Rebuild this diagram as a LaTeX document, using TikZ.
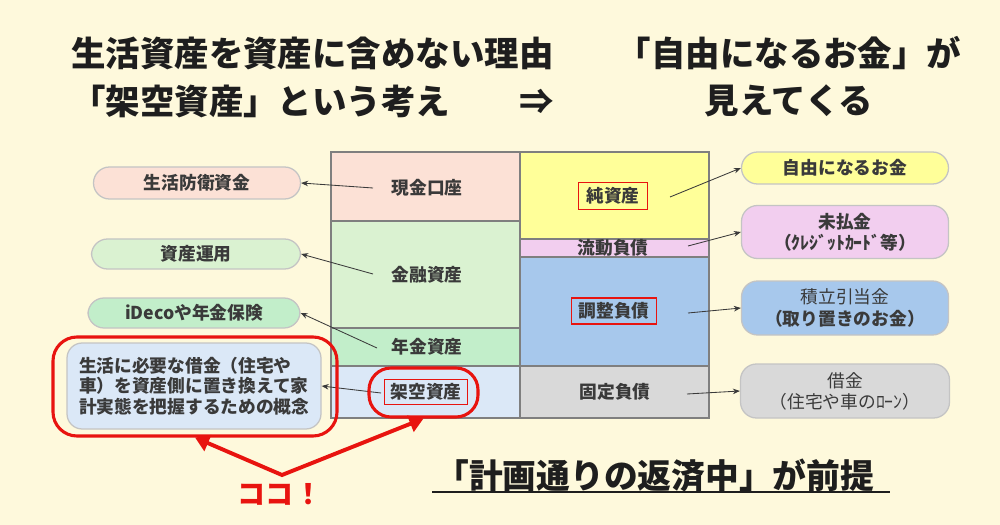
\documentclass[tikz,border=0pt]{standalone}
\usepackage{fontspec}
\usetikzlibrary{arrows.meta, positioning}
\setmainfont{Noto Sans CJK JP}
\definecolor{bgcream}{HTML}{FEF9DC}
\definecolor{pinkc}{HTML}{FCE1D6}
\definecolor{greenl}{HTML}{DAF2D1}
\definecolor{greenm}{HTML}{C2EECA}
\definecolor{bluel}{HTML}{DBE8F7}
\definecolor{yellowc}{HTML}{FFFF99}
\definecolor{lavc}{HTML}{F2CEEF}
\definecolor{bluem}{HTML}{A7C8EC}
\definecolor{grayc}{HTML}{D9D9D9}
\definecolor{cellgray}{HTML}{7F7F7F}
\definecolor{pillgray}{HTML}{C4C4C4}
\definecolor{txtgray}{HTML}{3A3A3A}
\definecolor{ttlc}{HTML}{1E1E1E}
\definecolor{redc}{HTML}{E8140F}
\newcommand{\lblfont}{\fontsize{12.6}{15}\selectfont}
\newcommand{\ttlfont}{\fontsize{24.5}{30}\selectfont\bfseries}
\tikzset{
  cell/.style={draw=cellgray, line width=1.1pt},
  lbl/.style={text=txtgray, font=\lblfont\bfseries, inner sep=0pt},
  pill/.style={draw=pillgray, line width=0.9pt, rounded corners=0.4cm, text=txtgray,
    font=\lblfont, align=center, inner sep=0pt},
  ptr/.style={draw=txtgray, line width=0.6pt, -{Stealth[length=5pt,width=4pt]}},
  redbox/.style={draw=redc, line width=1pt},
  redring/.style={draw=redc, line width=2.2pt, inner sep=0pt},
  ttl/.style={text=ttlc, font=\ttlfont, inner sep=0pt},
}
\begin{document}
\begin{tikzpicture}[x=0.025cm, y=-0.025cm]
\fill[bgcream] (0,0) rectangle (1000,525);
% titles
\node[ttl, anchor=west] (ttl-a) at (71,53) {生活資産を資産に含めない理由};
\node[ttl, anchor=west] (ttl-b) at (71,101) {「架空資産」という考え　　⇒};
\node[ttl] (ttl-c) at (789,53) {「自由になるお金」が};
\node[ttl] (ttl-d) at (789,101) {見えてくる};
% balance sheet
\draw[cell, fill=pinkc] (331,152) rectangle (520,221);
\draw[cell, fill=greenl] (331,221) rectangle (520,328);
\draw[cell, fill=greenm] (331,328) rectangle (520,366);
\draw[cell, fill=bluel] (331,366) rectangle (520,418);
\draw[cell, fill=yellowc] (520,152) rectangle (709,239);
\draw[cell, fill=lavc] (520,239) rectangle (709,257);
\draw[cell, fill=bluem] (520,257) rectangle (709,366);
\draw[cell, fill=grayc] (520,366) rectangle (709,418);
\node[lbl] (genkin) at (427,188) {現金口座};
\node[lbl] (kinyu) at (427,275) {金融資産};
\node[lbl] (nenkin) at (427,347) {年金資産};
\node[lbl, redbox, minimum width=83*0.025cm, minimum height=25*0.025cm] (kaku) at (426,392) {架空資産};
\node[lbl, redbox, minimum width=69*0.025cm, minimum height=27*0.025cm] (jun) at (613,196) {純資産};
\node[lbl] (ryudo) at (613,248) {流動負債};
\node[lbl, redbox, minimum width=85*0.025cm, minimum height=26*0.025cm] (chosei) at (614,311) {調整負債};
\node[lbl] (kotei) at (615,392) {固定負債};
% left side
\node[pill, fill=pinkc, minimum width=207*0.025cm, minimum height=32*0.025cm, font=\lblfont\bfseries] (bouei) at (197,183) {生活防衛資金};
\node[pill, fill=greenl, minimum width=209*0.025cm, minimum height=30*0.025cm, font=\lblfont\bfseries] (unyo) at (196,254) {資産運用};
\node[pill, fill=greenm, minimum width=212*0.025cm, minimum height=30*0.025cm, font=\lblfont\bfseries] (ideco) at (194,313) {iDecoや年金保険};
\node[pill, fill=bluel, minimum width=254*0.025cm, minimum height=86*0.025cm, align=left,
  text width=230*0.025cm, font=\fontsize{12.6}{14.4}\selectfont\bfseries, rounded corners=0.38cm] (gainen) at (194,386)
  {生活に必要な借金（住宅や\\車）を資産側に置き換えて家\\計実態を把握するための概念};
% right side
\node[pill, fill=yellowc, minimum width=207*0.025cm, minimum height=32*0.025cm, font=\lblfont\bfseries] (jiyu) at (845,168) {自由になるお金};
\node[pill, fill=lavc, minimum width=207*0.025cm, minimum height=53*0.025cm, font=\lblfont\bfseries] (miharai) at (845,232) {未払金\\（ｸﾚｼﾞｯﾄｶｰﾄﾞ等）};
\node[pill, fill=bluem, minimum width=207*0.025cm, minimum height=54*0.025cm] (tsumitate) at (845,308) {積立引当金\\{\bfseries（取り置きのお金）}};
\node[pill, fill=grayc, minimum width=209*0.025cm, minimum height=54*0.025cm] (shakkin) at (845,391) {借金\\（住宅や車のﾛｰﾝ）};
% pointers
\coordinate (genkin-s) at (373,188);
\coordinate (kinyu-s) at (373,274);
\coordinate (nenkin-s) at (377,348);
\coordinate (kaku-s) at (381,393);
\coordinate (jun-s) at (670,197);
\coordinate (ryudo-s) at (688,246);
\coordinate (chosei-s) at (688,313);
\coordinate (kotei-s) at (687,394);
\draw[ptr] (genkin-s) -- (bouei.east);
\draw[ptr] (kinyu-s) -- (unyo.east);
\draw[ptr] (nenkin-s) -- (ideco.east);
\draw[ptr] (kaku-s) -- (gainen.east);
\draw[ptr] (jun-s) -- (jiyu.west);
\draw[ptr] (ryudo-s) -- (miharai.west);
\draw[ptr] (chosei-s) -- (tsumitate.west);
\draw[ptr] (kotei-s) -- (shakkin.west);
% red marks
\node[redring, minimum width=284*0.025cm, minimum height=99*0.025cm, rounded corners=0.6cm] (ring-l) at (195,386.5) {};
\node[redring, minimum width=109*0.025cm, minimum height=49*0.025cm, rounded corners=0.55cm] (ring-r) at (423.5,392.5) {};
\coordinate (koko-v) at (282,475);
\draw[redc, line width=2.8pt, line join=miter, {Triangle[length=10pt,width=12pt]}-{Triangle[length=10pt,width=12pt]}]
  (ring-l.south) -- (koko-v) -- (ring-r.south);
\node[text=redc, font=\fontsize{20}{24}\selectfont\bfseries, inner sep=0pt] (koko) at (280,494) {ココ！};
% bottom
\node[ttl, anchor=west, font=\fontsize{24}{30}\selectfont\bfseries] (zentei) at (435,475) {「計画通りの返済中」が前提};
\draw[ttlc, line width=2.1pt] (432,492) -- (890,492);
\end{tikzpicture}
\end{document}
